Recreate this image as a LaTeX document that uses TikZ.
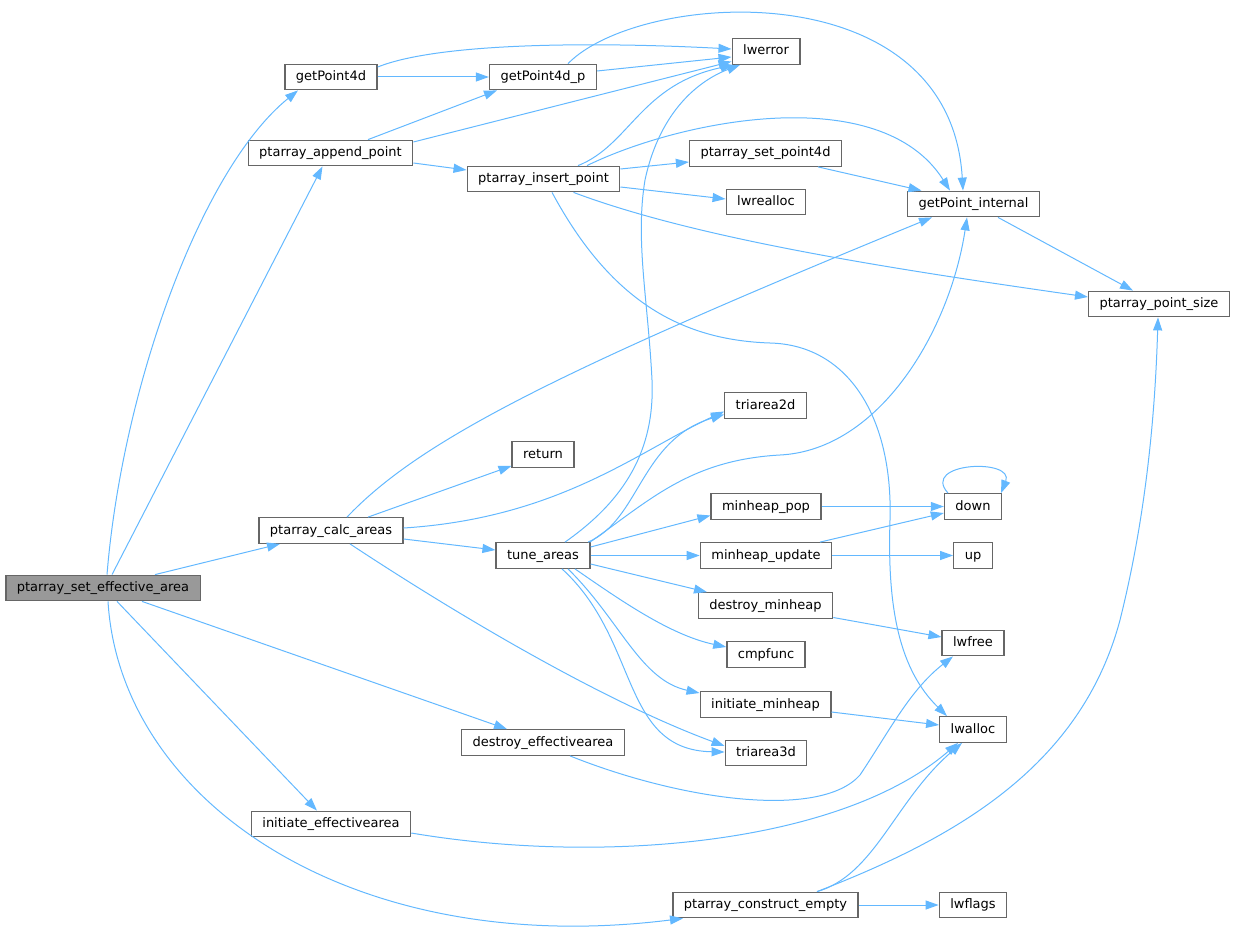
\documentclass[tikz,border=0pt]{standalone}
\usepackage{fontspec}
\setmainfont{DejaVu Sans}
\usepackage{xcolor}
\usetikzlibrary{arrows.meta}
\definecolor{edgeblue}{HTML}{63B8FF}
\definecolor{boxgray}{HTML}{666666}
\definecolor{mainfill}{HTML}{999999}

\begin{document}
\begin{tikzpicture}[x=1pt, y=-1pt,
  every node/.style={font=\fontsize{13}{15}\selectfont},
  fn/.style={draw=boxgray, line width=1.3pt, fill=white, inner xsep=11pt, inner ysep=0pt,
    minimum height=25.5pt, text height=9.8pt, text depth=2.8pt},
  fnmain/.style={fn, fill=mainfill},
  call/.style={draw=edgeblue, line width=1pt, -{Triangle[length=13pt,width=9pt]}}
]
\useasboundingbox (0,0) rectangle (1236,931);

\node[fnmain] (S) at (103,588) {ptarray\_set\_effective\_area};
\foreach \id/\cx/\cy/\txt in {
  gp4d/331/77/getPoint4d,
  gp4dp/543/77/getPoint4d\_p,
  lwerr/766/51.5/lwerror,
  app/330.5/153/ptarray\_append\_point,
  ins/543.5/179/ptarray\_insert\_point,
  sp4d/765.5/153.5/ptarray\_set\_point4d,
  lwrea/766/202/lwrealloc,
  gpi/973.5/204/getPoint\_internal,
  psz/1159/304/ptarray\_point\_size,
  tri2d/765.5/405.5/triarea2d,
  ret/543/454.5/return,
  down/973/506.5/down,
  mpop/766/506.5/minheap\_pop,
  calc/331/530.5/ptarray\_calc\_areas,
  tune/543/555.5/tune\_areas,
  mupd/766/555.5/minheap\_update,
  up/973/555.5/up,
  dmin/765.5/605.5/destroy\_minheap,
  lwfree/973/643/lwfree,
  cmpf/766/654.5/cmpfunc,
  imin/765.5/704.5/initiate\_minheap,
  lwall/973/729.5/lwalloc,
  deff/543/742.5/destroy\_effectivearea,
  tri3d/766/753/triarea3d,
  ieff/331/824/initiate\_effectivearea,
  cemp/765.5/905/ptarray\_construct\_empty,
  lwfl/973/905/lwflags
}{
  \node[fn] (\id) at (\cx,\cy) {\txt};
}

% ptarray_set_effective_area
\draw[call] ([xshift=4pt]S.north) .. controls (122,390) and (200,170) .. ([xshift=-33pt]gp4d.south);
\draw[call] ([xshift=9pt]S.north) -- ([xshift=-8pt]app.south);
\draw[call] ([xshift=52pt]S.north) -- ([xshift=-51pt]calc.south);
\draw[call] ([xshift=39pt]S.south) -- ([xshift=-36pt]deff.north);
\draw[call] ([xshift=14pt]S.south) -- ([xshift=-14pt]ieff.north);
\draw[call] ([xshift=5pt]S.south) .. controls (120,800) and (350,960) .. ([xshift=-82.5pt]cemp.south);

% getPoint4d, getPoint4d_p
\draw[call] (gp4d.east) -- (gp4dp.west);
\draw[call] ([yshift=10pt]gp4d.east) .. controls (440,42) and (600,42) .. ([yshift=2.5pt]lwerr.west);
\draw[call] ([yshift=6pt]gp4dp.east) -- ([yshift=-5.5pt]lwerr.west);
\draw[call] ([xshift=25pt]gp4dp.north) .. controls (640,-10) and (950,-30) .. ([xshift=-10.5pt]gpi.north);

% ptarray_append_point
\draw[call] ([xshift=37.5pt]app.north) -- ([xshift=-46pt]gp4dp.south);
\draw[call] ([yshift=11pt]app.east) -- ([yshift=-10pt]lwerr.west);
\draw[call] ([yshift=-10pt]app.east) -- ([yshift=9pt]ins.west);

% ptarray_insert_point
\draw[call] ([xshift=34.5pt]ins.north) .. controls (630,145) and (640,85) .. ([xshift=2pt]lwerr.south west);
\draw[call] ([xshift=43.5pt]ins.north) .. controls (680,120) and (880,80) .. ([xshift=-23.5pt]gpi.north);
\draw[call] ([yshift=10pt]ins.east) -- ([yshift=-8.5pt]sp4d.west);
\draw[call] ([yshift=-8pt]ins.east) -- ([yshift=3pt]lwrea.west);
\draw[call] ([xshift=30pt]ins.south) .. controls (700,240) and (900,270) .. ([yshift=7pt]psz.west);
\draw[call] ([xshift=8.5pt]ins.south) .. controls (610,300) and (680,340) .. (770,343)
  .. controls (850,345) and (893,420) .. (890,520)
  .. controls (887,610) and (900,670) .. ([xshift=-26pt]lwall.north);
\draw[call] ([xshift=52.5pt]sp4d.south) -- ([xshift=-52pt]gpi.north);
\draw[call] ([xshift=24.5pt]gpi.south) -- ([xshift=-26pt]psz.north);

% ptarray_calc_areas
\draw[call] ([xshift=16pt]calc.north) .. controls (420,440) and (560,370) .. ([xshift=-41.5pt]gpi.south);
\draw[call] ([xshift=37pt]calc.north) -- ([yshift=2pt]ret.south west);
\draw[call] ([yshift=2.5pt]calc.east) .. controls (560,518) and (640,450) .. ([yshift=-6pt]tri2d.west);
\draw[call] ([yshift=-8.5pt]calc.east) -- ([yshift=5.5pt]tune.west);
\draw[call] ([xshift=19pt]calc.south) .. controls (450,610) and (600,700) .. ([yshift=7pt]tri3d.west);

% tune_areas
\draw[call] ([xshift=22pt]tune.north) .. controls (625,500) and (655,450) .. (652,380)
  .. controls (648,300) and (635,240) .. (645,180)
  .. controls (660,110) and (700,80) .. ([xshift=-26pt]lwerr.south);
\draw[call] ([xshift=45pt]tune.north) .. controls (640,520) and (640,440) .. ([yshift=-9pt]tri2d.west);
\draw[call] ([xshift=47pt]tune.north) .. controls (650,500) and (690,460) .. (780,455)
  .. controls (880,450) and (950,330) .. ([xshift=-6.5pt]gpi.south);
\draw[call] ([yshift=8.5pt]tune.east) -- ([yshift=-9pt]mpop.west);
\draw[call] (tune.east) -- (mupd.west);
\draw[call] ([yshift=-8.5pt]tune.east) -- ([xshift=-58.5pt]dmin.north);
\draw[call] ([xshift=32pt]tune.south) .. controls (620,600) and (670,635) .. ([yshift=7.5pt]cmpf.west);
\draw[call] ([xshift=25pt]tune.south) .. controls (620,620) and (640,680) .. ([yshift=11.5pt]imin.west);
\draw[call] ([xshift=19pt]tune.south) .. controls (640,640) and (620,750) .. ([yshift=1pt]tri3d.west);

% minheap
\draw[call] (mpop.east) -- (down.west);
\draw[call] ([xshift=54pt]mupd.north) -- ([yshift=-6.5pt]down.west);
\draw[call] (mupd.east) -- (up.west);
\draw[call] ([xshift=-25pt]down.north) .. controls (920,462) and (1015,458) .. ([xshift=28pt]down.north);
\draw[call] ([yshift=-12pt]dmin.east) -- ([yshift=6pt]lwfree.west);
\draw[call] ([yshift=-7.5pt]imin.east) -- ([yshift=4.5pt]lwall.west);

% effective area, construct_empty
\draw[call] ([xshift=27pt]deff.south) .. controls (680,800) and (820,820) .. (860,775)
  .. controls (890,730) and (910,690) .. ([xshift=-20pt]lwfree.south);
\draw[call] ([yshift=-9pt]ieff.east) .. controls (600,865) and (840,845) .. ([xshift=-15pt]lwall.south);
\draw[call] ([xshift=51.5pt]cemp.north) .. controls (875,875) and (895,800) .. ([xshift=-11pt]lwall.south);
\draw[call] ([xshift=51.5pt]cemp.north) .. controls (950,840) and (1080,770) .. (1120,620)
  .. controls (1145,520) and (1155,420) .. ([xshift=-1pt]psz.south);
\draw[call] (cemp.east) -- (lwfl.west);
\end{tikzpicture}
\end{document}
